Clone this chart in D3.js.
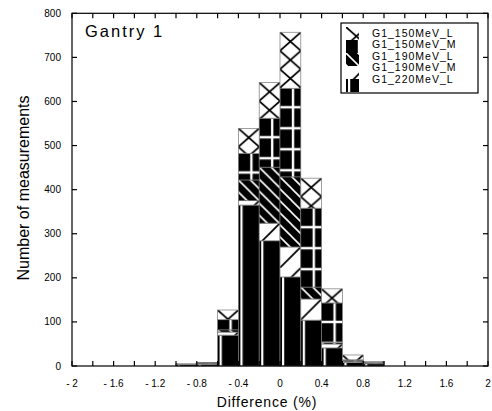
<!DOCTYPE html>
<html>
<head>
<meta charset="utf-8">
<script src="https://cdn.jsdelivr.net/npm/d3@7"></script>
<style>
  html, body { margin: 0; padding: 0; background: #fff; }
  svg { display: block; font-family: "Liberation Sans", Arial, sans-serif; }
</style>
</head>
<body>
<svg id="chart" width="492" height="411"></svg>
<script>
// ── Data ──────────────────────────────────────────────────────────────────────
const binStarts  = [-1.0, -0.8, -0.6, -0.4, -0.2, 0.0, 0.2, 0.4, 0.6, 0.8];
const BIN_WIDTH  = 0.2;

// stacked bottom → top
const seriesKeys = ["G1_220MeV_L", "G1_190MeV_M", "G1_190MeV_L", "G1_150MeV_M", "G1_150MeV_L"];
const g220L = [3, 4, 70, 365, 284, 202, 104, 41, 8, 5];
const g190M = [0, 1,  7,  10,  40,  68,  48,  9, 2, 1];
const g190L = [0, 1,  5,  47, 127, 159,  27,  3, 2, 1];
const g150M = [1, 1, 23,  60, 111, 201, 179, 90, 2, 1];
const g150L = [1, 1, 22,  57,  81, 127,  68, 32, 11, 2];

const legendOrder = ["G1_150MeV_L", "G1_150MeV_M", "G1_190MeV_L", "G1_190MeV_M", "G1_220MeV_L"];

const xTicks      = [-2, -1.8, -1.6, -1.4, -1.2, -1, -0.8, -0.6, -0.4, -0.2, 0, 0.2, 0.4, 0.6, 0.8, 1, 1.2, 1.4, 1.6, 1.8, 2];
const xTickLabels = ["- 2", "- 1.6", "- 1.2", "- 0.8", "- 0.4", "0", "0.4", "0.8", "1.2", "1.6", "2"];
const xLabelVals  = [-2, -1.6, -1.2, -0.8, -0.4, 0, 0.4, 0.8, 1.2, 1.6, 2];
const yTicks      = [0, 100, 200, 300, 400, 500, 600, 700, 800];

(function () {
  "use strict";

  // ── Layout ──────────────────────────────────────────────────────────────────
  const X0 = 72, X1 = 488;
  const Y0 = 366, Y1 = 13.3;
  const TICK = 5;

  const svg = d3.select("#chart");

  const x = d3.scaleLinear().domain([-2, 2]).range([X0, X1]);
  const y = d3.scaleLinear().domain([0, 800]).range([Y0, Y1]);
  const binPx = x(BIN_WIDTH) - x(0);

  // ── Patterns (tiles start at each segment's top-left) ───────────────────────
  const defs = svg.append("defs");

  function pattern(id, w, h, bg) {
    const p = defs.append("pattern")
      .attr("id", id)
      .attr("patternUnits", "userSpaceOnUse")
      .attr("x", 0).attr("y", 0)
      .attr("width", w).attr("height", h);
    p.append("rect").attr("width", w).attr("height", h).attr("fill", bg);
    return p;
  }

  // 150MeV_L : white with black X lattice
  let p = pattern("p150L", binPx, 18.5, "#fff");
  p.append("path")
    .attr("d", `M0,0L${binPx},18.5M${binPx},0L0,18.5`)
    .attr("stroke", "#000").attr("stroke-width", 1.7).attr("fill", "none");

  // 150MeV_M : black with white cross grid
  p = pattern("p150M", binPx, 21, "#000");
  p.append("path")
    .attr("d", `M13,0V21M0,19H${binPx}`)
    .attr("stroke", "#fff").attr("stroke-width", 2.4).attr("fill", "none");

  // 190MeV_L : black with white "\" lines
  p = pattern("p190L", 12, 12, "#000");
  p.append("path")
    .attr("d", "M0,0L12,12M-2,10L2,14M10,-2L14,2")
    .attr("stroke", "#fff").attr("stroke-width", 1.6).attr("fill", "none");

  // 190MeV_M : white with black "/" line
  p = pattern("p190M", binPx, binPx, "#fff");
  p.append("path")
    .attr("d", `M0,${binPx}L${binPx},0`)
    .attr("stroke", "#000").attr("stroke-width", 1.7).attr("fill", "none");

  // 220MeV_L : black with white vertical line
  p = pattern("p220L", binPx, 400, "#000");
  p.append("rect").attr("x", 2).attr("width", 2.2).attr("height", 400).attr("fill", "#fff");

  const patternOf = {
    "G1_150MeV_L": "url(#p150L)",
    "G1_150MeV_M": "url(#p150M)",
    "G1_190MeV_L": "url(#p190L)",
    "G1_190MeV_M": "url(#p190M)",
    "G1_220MeV_L": "url(#p220L)"
  };

  // ── Stack ───────────────────────────────────────────────────────────────────
  const cols = { "G1_220MeV_L": g220L, "G1_190MeV_M": g190M, "G1_190MeV_L": g190L,
                 "G1_150MeV_M": g150M, "G1_150MeV_L": g150L };
  const table = binStarts.map((b, i) => {
    const row = { bin: b };
    seriesKeys.forEach(k => { row[k] = cols[k][i]; });
    return row;
  });
  const stacked = d3.stack().keys(seriesKeys)(table);

  const bars = svg.append("g").attr("class", "bars");
  stacked.forEach(layer => {
    layer.forEach(d => {
      const h = y(d[0]) - y(d[1]);
      if (h <= 0) return;
      const xl = x(d.data.bin);
      bars.append("g")
        .attr("transform", `translate(${xl},${y(d[1])})`)
        .append("rect")
        .attr("width", binPx)
        .attr("height", h)
        .attr("fill", patternOf[layer.key])
        .attr("stroke", "#777")
        .attr("stroke-width", 0.7);
    });
  });

  // ── Frame + inward ticks ────────────────────────────────────────────────────
  const ax = svg.append("g").attr("stroke", "#000").attr("stroke-width", 1.2).attr("fill", "none");
  ax.append("rect").attr("x", X0).attr("y", Y1).attr("width", X1 - X0).attr("height", Y0 - Y1);

  xTicks.forEach(t => {
    ax.append("line").attr("x1", x(t)).attr("x2", x(t)).attr("y1", Y0).attr("y2", Y0 - TICK);
    ax.append("line").attr("x1", x(t)).attr("x2", x(t)).attr("y1", Y1).attr("y2", Y1 + TICK);
  });
  yTicks.forEach(t => {
    ax.append("line").attr("x1", X0).attr("x2", X0 + TICK).attr("y1", y(t)).attr("y2", y(t));
    ax.append("line").attr("x1", X1).attr("x2", X1 - TICK).attr("y1", y(t)).attr("y2", y(t));
  });

  // ── Tick labels ─────────────────────────────────────────────────────────────
  svg.append("g").selectAll("text")
    .data(yTicks).join("text")
    .attr("x", X0 - 11)
    .attr("y", d => y(d))
    .attr("dy", "0.35em")
    .attr("text-anchor", "end")
    .attr("font-size", "10px")
    .text(d => d);

  svg.append("g").selectAll("text")
    .data(xLabelVals).join("text")
    .attr("x", d => x(d))
    .attr("y", 387)
    .attr("text-anchor", "middle")
    .attr("font-size", "10px")
    .text((d, i) => xTickLabels[i]);

  // ── Axis titles ─────────────────────────────────────────────────────────────
  svg.append("text")
    .attr("x", 267).attr("y", 407)
    .attr("text-anchor", "middle")
    .attr("font-size", "14px")
    .attr("letter-spacing", "0.8px")
    .text("Difference (%)");

  svg.append("text")
    .attr("transform", "translate(29,188) rotate(-90)")
    .attr("text-anchor", "middle")
    .attr("font-size", "16px")
    .text("Number of measurements");

  svg.append("text")
    .attr("x", 85).attr("y", 37)
    .attr("font-size", "16.5px")
    .attr("letter-spacing", "2px")
    .text("Gantry 1");

  // ── Legend ──────────────────────────────────────────────────────────────────
  const lg = svg.append("g").attr("class", "legend");
  lg.append("rect")
    .attr("x", 341).attr("y", 23).attr("width", 137).attr("height", 70)
    .attr("fill", "#fff").attr("stroke", "#000").attr("stroke-width", 1.2);

  legendOrder.forEach((k, i) => {
    lg.append("g")
      .attr("transform", `translate(346,${27 + i * 13})`)
      .append("rect")
      .attr("width", 13).attr("height", 13)
      .attr("fill", patternOf[k]);
    lg.append("text")
      .attr("x", 372)
      .attr("y", 36.5 + i * 11.6)
      .attr("font-size", "10.5px")
      .attr("letter-spacing", "1px")
      .text(k);
  });
})();
</script>
</body>
</html>
